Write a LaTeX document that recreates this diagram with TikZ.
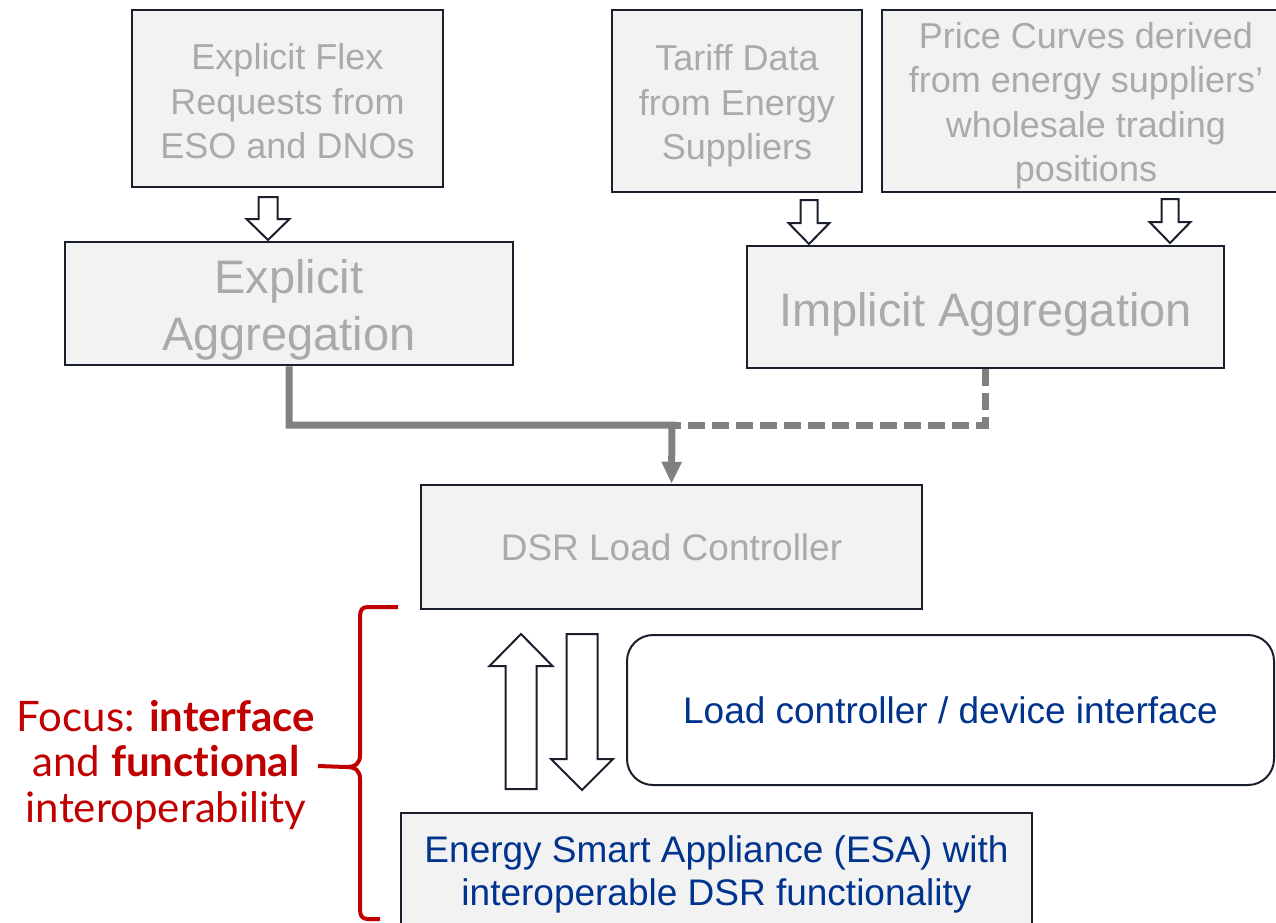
\documentclass[tikz,border=0pt]{standalone}
\usepackage{fontspec}
\setmainfont{Liberation Sans}
\newfontfamily\focusfont[Ligatures=NoCommon]{Lato}
\usetikzlibrary{arrows.meta}
\definecolor{boxfill}{RGB}{242,242,242}
\definecolor{boxline}{RGB}{26,31,46}
\definecolor{txtgray}{RGB}{170,170,170}
\definecolor{conngray}{RGB}{128,128,128}
\definecolor{navy}{RGB}{0,51,141}
\definecolor{focusred}{RGB}{192,0,0}
\newcommand{\upr}[1]{\rule{0pt}{#1pt}}
\begin{document}
\begin{tikzpicture}[x=1pt,y=-1pt,
  box/.style={draw=boxline, line width=2.5pt, fill=boxfill, text=txtgray, align=center, inner sep=0pt},
  conn/.style={draw=conngray, line width=7pt},
  dashconn/.style={conn, dash pattern=on 17pt off 7pt},
  hollow/.style={draw=boxline, line width=2pt, fill=white},
  bracered/.style={draw=focusred, line width=4pt},
  f36/.style={font=\fontsize{36}{44.5}\selectfont},
  f37/.style={font=\fontsize{37}{43}\selectfont},
  f47/.style={font=\fontsize{47}{57}\selectfont}]
\useasboundingbox (0,0) rectangle (1276,922);

% top boxes
\node[box, f36, minimum width=311pt, minimum height=177pt] (flex) at (287.5,98.5)
  {\upr{32}Explicit Flex\\Requests from\\ESO and DNOs};
\node[box, f36, minimum width=250pt, minimum height=182pt] (tariff) at (737,101)
  {\upr{36}Tariff Data\\from Energy\\Suppliers};
\node[box, f36, minimum width=408pt, minimum height=182pt] (price) at (1086,101)
  {\upr{35}Price Curves derived\\from energy suppliers’\\wholesale trading\\positions};

% aggregation boxes
\node[box, f47, minimum width=448pt, minimum height=123pt] (expagg) at (289,303.5)
  {\upr{47}Explicit\\Aggregation};
\node[box, f47, minimum width=477pt, minimum height=122pt] (impagg) at (985.5,307)
  {\upr{48}Implicit Aggregation};

% controller
\node[box, f37, minimum width=501pt, minimum height=124pt] (dsr) at (671.5,547)
  {DSR Load Controller};

% interface
\node[draw=boxline, line width=2pt, fill=white, rounded corners=26pt, text=navy, f37,
  minimum width=647pt, minimum height=150pt, inner sep=0pt] (lcdi) at (950.5,710)
  {Load controller / device interface};

% ESA
\node[box, f37, text=navy, minimum width=631pt, minimum height=117pt] (esa) at (716.5,871.5)
  {\upr{33}Energy Smart Appliance (ESA) with\\interoperable DSR functionality};

% connectors
\coordinate (j) at (672,425);
\draw[dashconn] (impagg.south) |- (j);
\draw[conn, -{Triangle[length=22pt,width=19pt]}] (expagg.south) |- (j) -- (dsr.north);

% hollow arrows (top)
\draw[hollow] (258.5,197) -- (277.5,197) -- (277.5,219) -- (289.5,219) -- (268,240)
  -- (246.5,219) -- (258.5,219) -- cycle;
\draw[hollow] (800.5,200) -- (817.5,200) -- (817.5,223) -- (829.5,223) -- (809,244)
  -- (788.5,223) -- (800.5,223) -- cycle;
\draw[hollow] (1161.5,199) -- (1178.5,199) -- (1178.5,222) -- (1190.5,222) -- (1170,243)
  -- (1149.5,222) -- (1161.5,222) -- cycle;

% big up / down arrows
\draw[hollow] (521,634) -- (552.5,666) -- (536.5,666) -- (536.5,789) -- (505.5,789)
  -- (505.5,666) -- (489.5,666) -- cycle;
\draw[hollow] (566.5,634) -- (597.5,634) -- (597.5,759) -- (613,759) -- (582,790)
  -- (551,759) -- (566.5,759) -- cycle;

% brace
\coordinate (tip) at (346,767);
\draw[bracered, line join=round] (398,607) -- (368,607)
  .. controls (362,607) and (360,610) .. (360,617) -- (360,755)
  .. controls (360,763) and (356,767) .. (tip)
  .. controls (356,767) and (360,771) .. (360,779) -- (360,909)
  .. controls (360,916) and (362,919) .. (368,919) -- (380,919);

% focus text
\node[text=focusred, align=center, inner sep=0pt,
  font=\focusfont\fontsize{42}{45.5}\selectfont] (focus) at (166,765)
  {Focus: \textbf{interface}\\and \textbf{functional}\\interoperability};
\coordinate (dashstart) at (318,766);
\draw[bracered] (dashstart) -- (tip);
\end{tikzpicture}
\end{document}
